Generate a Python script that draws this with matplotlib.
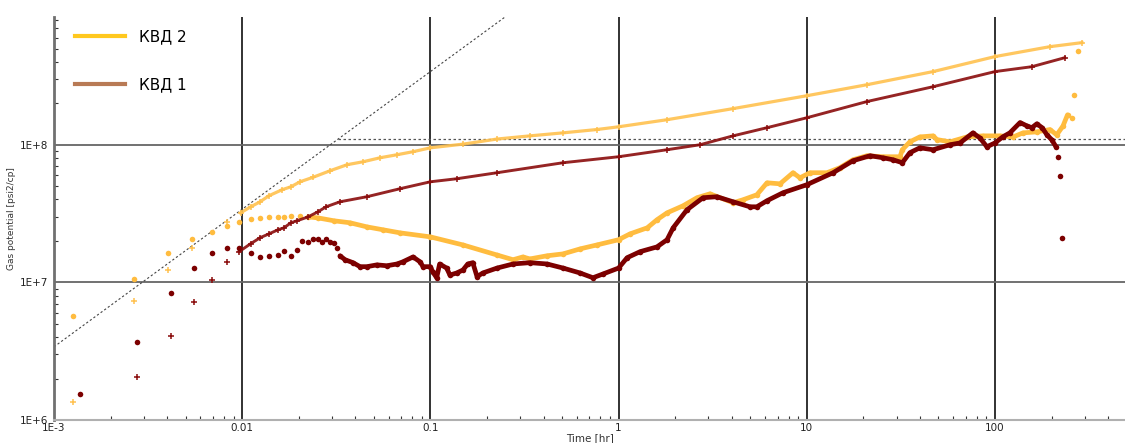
import matplotlib
matplotlib.use('Agg')
import matplotlib.pyplot as plt
from matplotlib.lines import Line2D
from matplotlib.ticker import LogLocator, NullFormatter

# KVD 2 - pressure function (yellow +)
t_p2 = [1.26e-3, 2.66e-3, 4.04e-3, 5.41e-3, 8.30e-3, 9.8e-3, 0.0111, 0.01245, 0.01387,
        0.0163, 0.01815, 0.0203, 0.0238, 0.0293, 0.0361, 0.0439, 0.054, 0.0665, 0.0809,
        0.1, 0.149, 0.226, 0.338, 0.507, 0.767, 1.0, 1.81, 4.06, 10.0, 20.9, 46.9,
        100.0, 196.0, 290.0]
p_p2 = [1.35e6, 7.33e6, 1.23e7, 1.78e7, 2.75e7, 3.2e7, 3.54e7, 3.85e7, 4.26e7,
        4.71e7, 4.95e7, 5.38e7, 5.8e7, 6.47e7, 7.16e7, 7.52e7, 8.04e7, 8.46e7, 8.9e7,
        9.5e7, 1.01e8, 1.1e8, 1.16e8, 1.22e8, 1.29e8, 1.35e8, 1.52e8, 1.83e8, 2.27e8,
        2.73e8, 3.40e8, 4.37e8, 5.16e8, 5.52e8]

# KVD 1 - pressure function (dark red +)
t_p1 = [2.76e-3, 4.19e-3, 5.55e-3, 6.91e-3, 8.30e-3, 9.62e-3, 0.0111, 0.01245, 0.01387,
        0.0155, 0.01667, 0.01815, 0.01954, 0.0224, 0.0253, 0.0279, 0.0331, 0.046, 0.0689,
        0.1, 0.138, 0.226, 0.507, 1.0, 1.81, 2.71, 4.06, 6.15, 10.0, 20.9, 46.9, 100.0,
        157.0, 235.0]
p_p1 = [2.05e6, 4.08e6, 7.21e6, 1.04e7, 1.41e7, 1.67e7, 1.91e7, 2.11e7, 2.25e7,
        2.41e7, 2.49e7, 2.71e7, 2.8e7, 2.99e7, 3.26e7, 3.54e7, 3.85e7, 4.19e7, 4.79e7,
        5.38e7, 5.66e7, 6.26e7, 7.4e7, 8.18e7, 9.2e7, 1.0e8, 1.16e8, 1.33e8, 1.57e8,
        2.06e8, 2.64e8, 3.40e8, 3.69e8, 4.29e8]

# KVD 2 - derivative (yellow dots)
t_d2 = [1.26e-3, 2.66e-3, 4.04e-3, 5.41e-3, 6.91e-3, 8.30e-3, 9.62e-3, 0.0111, 0.01245,
        0.01387, 0.0155, 0.01667, 0.01815, 0.0203, 0.0224, 0.0253, 0.0308, 0.0374, 0.046,
        0.056, 0.0689, 0.1, 0.149, 0.226, 0.275, 0.31, 0.338, 0.417, 0.507, 0.624, 0.767,
        1.0, 1.15, 1.42, 1.6, 1.81, 2.2, 2.61, 3.06, 4.06, 4.58, 5.43, 6.15, 7.21, 8.45,
        9.2, 10.4, 12.8, 15.0, 17.6, 20.9, 25.4, 31.3, 32.2, 35.3, 39.9, 46.9, 49.2, 57.7,
        71.0, 86.3, 106.0, 125.0, 141.0, 167.0, 196.0, 213.0, 230.0, 243.0, 256.0, 263.0,
        276.0]
p_d2 = [5.71e6, 1.06e7, 1.64e7, 2.07e7, 2.33e7, 2.58e7, 2.75e7, 2.9e7, 2.94e7,
        2.99e7, 2.99e7, 2.99e7, 3.05e7, 3.05e7, 2.99e7, 2.94e7, 2.8e7, 2.71e7, 2.53e7,
        2.41e7, 2.29e7, 2.14e7, 1.87e7, 1.58e7, 1.46e7, 1.53e7, 1.48e7, 1.56e7, 1.61e7,
        1.75e7, 1.87e7, 2.04e7, 2.25e7, 2.49e7, 2.85e7, 3.2e7, 3.6e7, 4.12e7, 4.4e7,
        3.79e7, 3.98e7, 4.33e7, 5.29e7, 5.2e7, 6.26e7, 5.75e7, 6.26e7, 6.26e7, 6.81e7,
        7.78e7, 8.32e7, 8.18e7, 8.18e7, 9.2e7, 1.05e8, 1.14e8, 1.16e8, 1.09e8, 1.05e8,
        1.14e8, 1.16e8, 1.16e8, 1.14e8, 1.22e8, 1.24e8, 1.29e8, 1.18e8, 1.37e8, 1.65e8,
        1.57e8, 2.31e8, 4.83e8]

# KVD 1 - derivative (dark red dots)
t_d1 = [1.37e-3, 2.76e-3, 4.19e-3, 5.55e-3, 6.91e-3, 8.30e-3, 9.62e-3, 0.0111, 0.01245,
        0.01387, 0.0155, 0.01667, 0.01815, 0.01954, 0.0208, 0.0224, 0.0238, 0.0253,
        0.0266, 0.0279, 0.0293, 0.0308, 0.0319, 0.0331, 0.0352, 0.0388, 0.0423, 0.046,
        0.052, 0.0587, 0.0665, 0.0714, 0.0809, 0.0881, 0.0914, 0.1, 0.103, 0.108, 0.112,
        0.122, 0.127, 0.138, 0.149, 0.158, 0.168, 0.177, 0.19, 0.226, 0.275, 0.338,
        0.417, 0.507, 0.624, 0.731, 0.826, 1.0, 1.11, 1.3, 1.6, 1.81, 1.95, 2.31, 2.81,
        3.33, 4.06, 4.99, 5.43, 6.15, 7.48, 10.0, 13.8, 17.6, 21.7, 25.4, 28.7, 32.2,
        35.3, 39.9, 46.9, 57.7, 65.2, 76.4, 83.2, 90.6, 100.0, 110.0, 120.0, 136.0,
        148.0, 157.0, 167.0, 178.0, 189.0, 200.0, 211.0, 217.0, 221.0, 227.0]
p_d1 = [1.55e6, 3.69e6, 8.39e6, 1.27e7, 1.64e7, 1.78e7, 1.78e7, 1.64e7, 1.53e7,
        1.56e7, 1.58e7, 1.69e7, 1.56e7, 1.72e7, 2.0e7, 1.97e7, 2.07e7, 2.07e7,
        1.97e7, 2.07e7, 1.97e7, 1.94e7, 1.78e7, 1.56e7, 1.46e7, 1.39e7, 1.30e7, 1.30e7,
        1.34e7, 1.32e7, 1.36e7, 1.41e7, 1.53e7, 1.41e7, 1.30e7, 1.30e7, 1.19e7, 1.08e7,
        1.36e7, 1.27e7, 1.13e7, 1.17e7, 1.23e7, 1.36e7, 1.39e7, 1.10e7, 1.17e7, 1.27e7,
        1.36e7, 1.39e7, 1.36e7, 1.27e7, 1.17e7, 1.08e7, 1.15e7, 1.27e7, 1.51e7, 1.67e7,
        1.81e7, 2.04e7, 2.49e7, 3.37e7, 4.12e7, 4.19e7, 3.85e7, 3.54e7, 3.54e7, 3.92e7,
        4.48e7, 5.12e7, 6.26e7, 7.65e7, 8.32e7, 8.04e7, 7.78e7, 7.4e7, 8.75e7, 9.5e7,
        9.2e7, 1.0e8, 1.03e8, 1.22e8, 1.12e8, 9.67e7, 1.03e8, 1.14e8, 1.22e8, 1.45e8,
        1.37e8, 1.33e8, 1.42e8, 1.33e8, 1.18e8, 1.09e8, 9.67e7, 8.18e7, 5.9e7, 2.11e7]

# unit slope line and stabilisation level
slope_t = [1e-3, 0.25]
slope_p = [3.4e6, 8.5e8]
level_t = [0.0324, 500.0]
level_p = [1.1e8, 1.1e8]

yellow = '#FFBC3F'
yellow_p = '#FFC14F'
red = '#7C0000'
red_p = '#8A0C0C'

fig = plt.figure(figsize=(11.25, 4.43), dpi=100)
ax = fig.add_axes([0.048, 0.052, 0.952, 0.91])
ax.set_xscale('log')
ax.set_yscale('log')
ax.set_xlim(1e-3, 491)
ax.set_ylim(1e6, 8.5e8)

# grid at decades
for xv in [0.01, 0.1, 1, 10, 100]:
    ax.axvline(xv, color='#222222', lw=1.3, zorder=1)
for yv in [1e7, 1e8]:
    ax.axhline(yv, color='#666666', lw=1.3, zorder=1)

ax.plot(slope_t, slope_p, color='#444444', lw=0.8, ls=(0, (2, 2)), zorder=2)
ax.plot(level_t, level_p, color='#555555', lw=0.9, ls=(0, (2, 2)), zorder=2)


def dense(t, p, tmin):
    tt = [a for a in t if a >= tmin]
    pp = [b for a, b in zip(t, p) if a >= tmin]
    return tt, pp


# KVD 2
tt, pp = dense(t_p2, p_p2, 0.0096)
ax.plot(tt, pp, color=yellow_p, lw=2.3, alpha=0.9, zorder=3)
ax.plot(t_p2, p_p2, ls='none', marker='+', ms=5, mew=1.1, color=yellow_p, zorder=3)
tt, pp = dense(t_d2, p_d2, 0.0224)
ax.plot(tt[:-3], pp[:-3], color=yellow, lw=3.4, zorder=3, solid_capstyle='round')
ax.plot(t_d2, p_d2, ls='none', marker='o', ms=4, mew=0, color=yellow, zorder=3)

# KVD 1
tt, pp = dense(t_p1, p_p1, 0.0096)
ax.plot(tt, pp, color=red_p, lw=2.1, alpha=0.9, zorder=4)
ax.plot(t_p1, p_p1, ls='none', marker='+', ms=5, mew=1.1, color=red_p, zorder=4)
tt, pp = dense(t_d1, p_d1, 0.0331)
ax.plot(tt[:-3], pp[:-3], color=red, lw=3.4, zorder=4, solid_capstyle='round')
ax.plot(t_d1, p_d1, ls='none', marker='o', ms=4, mew=0, color=red, zorder=4)

# ticks
ax.set_xticks([1e-3, 0.01, 0.1, 1, 10, 100])
ax.set_xticklabels(['1E-3', '0.01', '0.1', '1', '10', '100'])
ax.set_yticks([1e6, 1e7, 1e8])
ax.set_yticklabels(['1E+6', '1E+7', '1E+8'])
ax.xaxis.set_minor_locator(LogLocator(base=10, subs=range(2, 10), numticks=20))
ax.yaxis.set_minor_locator(LogLocator(base=10, subs=range(2, 10), numticks=20))
ax.xaxis.set_minor_formatter(NullFormatter())
ax.yaxis.set_minor_formatter(NullFormatter())
ax.tick_params(which='major', direction='in', length=0, labelsize=7.5, pad=2, colors='#222222')
ax.tick_params(which='minor', direction='in', length=3, width=0.8, color='#333333')
ax.tick_params(axis='y', which='major', pad=4)

for s in ['top', 'right']:
    ax.spines[s].set_visible(False)
ax.spines['left'].set_color('#707070')
ax.spines['left'].set_linewidth(2)
ax.spines['bottom'].set_color('#b0b0b0')
ax.spines['bottom'].set_linewidth(1.5)

ax.set_xlabel('Time [hr]', fontsize=7.5, labelpad=0, color='#333333')
ax.set_ylabel('Gas potential [psi2/cp]', fontsize=6.5, labelpad=3, color='#333333')

handles = [Line2D([0], [0], color='#FFC81E', lw=3),
           Line2D([0], [0], color='#B87A55', lw=3)]
ax.legend(handles, ['КВД 2', 'КВД 1'], loc='upper left', frameon=False,
          fontsize=11, handlelength=3.3, handletextpad=0.9, labelspacing=2.2,
          borderaxespad=0.4, bbox_to_anchor=(0.008, 1.0))

fig.savefig('out.png', dpi=100)
